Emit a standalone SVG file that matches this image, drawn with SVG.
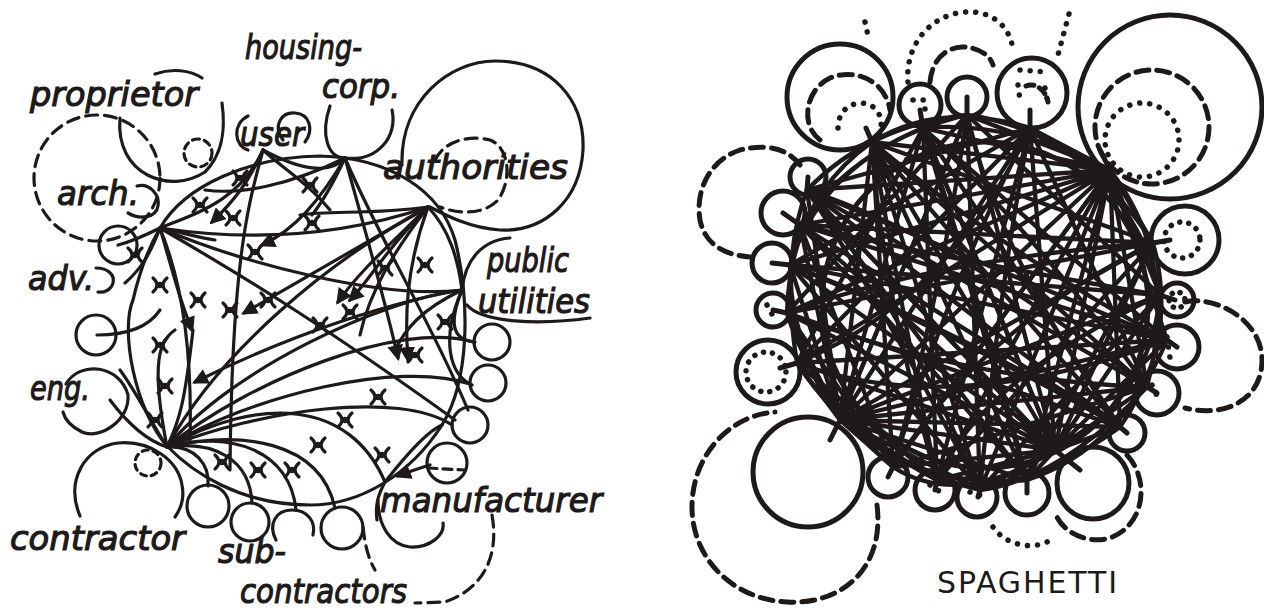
<svg xmlns="http://www.w3.org/2000/svg" xmlns:xlink="http://www.w3.org/1999/xlink" width="1264" height="610" viewBox="0 0 1264 610">
  <defs>
    <style>
      .ln { fill: none; stroke: #1e1a1a; stroke-width: 3.2; stroke-linecap: round; stroke-linejoin: round; }
      .dash { fill: none; stroke: #1e1a1a; stroke-width: 3.2; stroke-dasharray: 12 7; stroke-linecap: round; }
      .hw { font-family: "DejaVu Sans", "Liberation Sans", sans-serif; font-style: italic; font-size: 34px; fill: #1e1a1a; stroke: #1e1a1a; stroke-width: 1.2; }
      .sp { fill: none; stroke: #1e1a1a; stroke-width: 5; stroke-linecap: round; stroke-linejoin: round; }
      .web { fill: none; stroke: #1e1a1a; stroke-width: 4.3; stroke-linecap: round; stroke-linejoin: round; }
      .spd { fill: none; stroke: #1e1a1a; stroke-width: 5; stroke-dasharray: 13 8; stroke-linecap: round; }
      .spo { fill: none; stroke: #1e1a1a; stroke-width: 5.5; stroke-dasharray: 0.1 10; stroke-linecap: round; }
      .cap { font-family: "DejaVu Sans", "Liberation Sans", sans-serif; font-size: 30px; fill: #1e1a1a; }
    </style>
    <marker id="arr" viewBox="0 0 10 10" refX="8" refY="5" markerWidth="5" markerHeight="5" orient="auto" markerUnits="strokeWidth">
      <path d="M0,0 L10,5 L0,10 Z" fill="#1e1a1a"/>
    </marker>
    <g id="hook">
      <path d="M-7,-7 Q1,0 -7,7 M7,-7 Q-1,0 7,7" fill="none" stroke="#1e1a1a" stroke-width="3.2" stroke-linecap="round"/>
      <circle r="3.2" fill="#1e1a1a"/>
    </g>
  </defs>
  <rect width="1264" height="610" fill="#ffffff"/>

  <!-- ================= left: the building process ================= -->
  <g id="left-ring">
    <path class="ln" d="M160,228 C185,185 250,157 320,156 C390,158 440,190 455,240 C470,300 470,380 442,425 C410,475 360,505 310,505 C240,505 192,472 167,446 C135,410 120,330 133,300 C140,270 150,245 160,228 Z"/>
  </g>

  <g id="connectors-left">
    <!-- from architect -->
    <path class="ln" d="M160,228 C200,212 240,200 263,150"/>
    <path class="ln" d="M160,228 C240,240 330,240 428,207"/>
    <path class="ln" d="M160,228 C240,262 380,300 462,290"/>
    <path class="ln" d="M160,228 C250,280 330,330 455,420"/>
    <path class="ln" d="M160,228 C185,290 192,360 190,440"/>
    <path class="ln" d="M160,228 C175,280 180,300 192,330" marker-end="url(#arr)"/>
    <path class="ln" d="M160,228 C140,238 130,242 118,245"/>
    <path class="ln" d="M160,228 C150,255 140,270 125,283"/>
    <path class="ln" d="M160,228 C180,232 200,238 215,240"/>
    <!-- from user -->
    <path class="ln" d="M263,150 C250,180 235,200 212,222" marker-end="url(#arr)"/>
    <path class="ln" d="M263,150 C250,200 232,250 230,470"/>
    <path class="ln" d="M263,150 C285,170 310,185 330,210"/>
    <path class="ln" d="M263,150 C300,170 330,175 345,158"/>
    <!-- from housing corporation -->
    <path class="ln" d="M345,158 C320,200 295,230 262,245" marker-end="url(#arr)"/>
    <path class="ln" d="M345,158 C365,230 385,300 398,358" marker-end="url(#arr)"/>
    <path class="ln" d="M345,158 C380,240 430,320 468,410"/>
    <path class="ln" d="M345,158 C290,185 240,195 205,190"/>
    <path class="ln" d="M345,158 C330,190 320,205 312,215"/>
    <!-- from authorities -->
    <path class="ln" d="M428,207 C380,235 310,275 244,313" marker-end="url(#arr)"/>
    <path class="ln" d="M428,207 C395,240 360,270 338,302" marker-end="url(#arr)"/>
    <path class="ln" d="M428,207 C395,250 370,290 360,335"/>
    <path class="ln" d="M428,207 C385,250 370,280 350,300" marker-end="url(#arr)"/>
    <path class="ln" d="M428,207 C405,270 405,320 408,360" marker-end="url(#arr)"/>
    <path class="ln" d="M428,207 C450,230 458,260 462,290"/>
    <path class="ln" d="M428,207 C370,215 330,210 300,215"/>
    <!-- from public utilities -->
    <path class="ln" d="M462,290 C400,300 300,330 195,382" marker-end="url(#arr)"/>
    <path class="ln" d="M462,290 C450,320 450,340 475,342"/>
    <path class="ln" d="M462,290 C440,340 450,375 472,385"/>
    <path class="ln" d="M462,290 C420,310 405,330 395,350"/>
    <!-- from contractor -->
    <path class="ln" d="M167,447 C220,350 330,260 428,207"/>
    <path class="ln" d="M167,447 C230,370 380,300 462,290"/>
    <path class="ln" d="M167,447 C250,380 400,320 474,342"/>
    <path class="ln" d="M167,447 C250,395 400,360 470,384"/>
    <path class="ln" d="M167,447 C260,410 400,390 452,425"/>
    <path class="ln" d="M167,447 C260,395 350,400 385,482"/>
    <path class="ln" d="M167,447 C240,430 320,440 335,508"/>
    <path class="ln" d="M167,447 C230,430 290,450 296,510"/>
    <path class="ln" d="M167,447 C215,440 250,460 252,503"/>
    <path class="ln" d="M167,447 C195,445 210,465 208,486"/>
    <path class="ln" d="M167,447 C180,420 185,400 193,330"/>
    <path class="ln" d="M167,447 C150,420 135,390 120,370"/>
    <path class="ln" d="M167,447 C145,440 125,420 110,400"/>
    <path class="ln" d="M167,447 C150,360 160,340 175,330"/>
    <path class="ln" d="M97,335 C130,335 150,325 160,310"/>
    <!-- manufacturer -->
    <path class="ln" d="M385,482 C410,450 430,430 442,425"/>
    <path class="ln" d="M430,465 C420,468 408,472 398,476" marker-end="url(#arr)"/>
    <path class="ln" d="M385,482 C378,495 375,505 377,520"/>
  </g>

  <g id="hooks-left">
    <use xlink:href="#hook" x="240" y="178"/>
    <use xlink:href="#hook" x="200" y="205"/>
    <use xlink:href="#hook" x="233" y="218"/>
    <use xlink:href="#hook" x="310" y="185"/>
    <use xlink:href="#hook" x="312" y="223"/>
    <use xlink:href="#hook" x="255" y="252"/>
    <use xlink:href="#hook" x="135" y="255"/>
    <use xlink:href="#hook" x="160" y="285"/>
    <use xlink:href="#hook" x="198" y="300"/>
    <use xlink:href="#hook" x="230" y="310"/>
    <use xlink:href="#hook" x="268" y="300"/>
    <use xlink:href="#hook" x="320" y="325"/>
    <use xlink:href="#hook" x="350" y="312"/>
    <use xlink:href="#hook" x="385" y="268"/>
    <use xlink:href="#hook" x="425" y="265"/>
    <use xlink:href="#hook" x="445" y="322"/>
    <use xlink:href="#hook" x="415" y="355"/>
    <use xlink:href="#hook" x="160" y="345"/>
    <use xlink:href="#hook" x="165" y="386"/>
    <use xlink:href="#hook" x="155" y="420"/>
    <use xlink:href="#hook" x="378" y="397"/>
    <use xlink:href="#hook" x="345" y="420"/>
    <use xlink:href="#hook" x="318" y="445"/>
    <use xlink:href="#hook" x="292" y="470"/>
    <use xlink:href="#hook" x="258" y="470"/>
    <use xlink:href="#hook" x="222" y="462"/>
    <use xlink:href="#hook" x="382" y="455"/>
  </g>

  <g id="node-proprietor">
    <circle class="dash" cx="97" cy="178" r="63"/>
    <path class="ln" d="M120,118 C115,175 170,195 205,172 C225,152 225,125 222,103"/>
    <path class="ln" d="M155,74 C172,68 190,70 202,78"/>
    <circle class="dash" cx="198" cy="153" r="14" style="stroke-dasharray:7 5"/>
    <text class="hw" x="30" y="106" textLength="168" lengthAdjust="spacingAndGlyphs">proprietor</text>
  </g>
  <g id="node-user">
    <path class="ln" d="M248,116 C232,124 234,146 248,150"/>
    <path class="ln" d="M283,140 C272,125 282,112 295,113 C310,114 314,130 305,142"/>
    <text class="hw" x="240" y="146" textLength="64" lengthAdjust="spacingAndGlyphs">user</text>
  </g>
  <g id="node-housing-corp">
    <path class="ln" d="M330,106 C320,135 328,158 345,158 C378,162 398,136 392,110"/>
    <text class="hw" x="245" y="59" textLength="117" lengthAdjust="spacingAndGlyphs">housing-</text>
    <text class="hw" x="322" y="98" textLength="78" lengthAdjust="spacingAndGlyphs">corp.</text>
  </g>
  <g id="node-authorities">
    <path class="ln" d="M402,165 C400,100 450,61 495,61 C552,61 585,100 583,150 C580,200 545,232 500,230 C470,228 445,215 430,207"/>
    <path class="dash" d="M435,160 C445,140 470,135 490,140 C510,148 512,180 498,200 C485,214 460,215 440,207"/>
    <text class="hw" x="383" y="179" textLength="185" lengthAdjust="spacingAndGlyphs">authorities</text>
  </g>
  <g id="node-public-utilities">
    <path class="ln" d="M462,290 C465,260 482,240 510,238"/>
    <path class="ln" d="M467,305 C482,323 540,325 590,318"/>
    <text class="hw" x="487" y="272" textLength="82" lengthAdjust="spacingAndGlyphs">public</text>
    <text class="hw" x="478" y="313" textLength="112" lengthAdjust="spacingAndGlyphs">utilities</text>
  </g>
  <g id="node-arch">
    <path class="ln" d="M137,186 C150,183 160,195 158,206 C156,218 140,220 128,213"/>
    <text class="hw" x="57" y="205" textLength="82" lengthAdjust="spacingAndGlyphs">arch.</text>
  </g>
  <g id="node-adv">
    <circle class="ln" cx="118" cy="245" r="19"/>
    <path class="ln" d="M96,268 C108,268 115,275 113,283 C111,290 104,293 98,292"/>
    <text class="hw" x="28" y="290" textLength="66" lengthAdjust="spacingAndGlyphs">adv.</text>
  </g>
  <g id="node-side-left">
    <circle class="ln" cx="96" cy="335" r="20"/>
  </g>
  <g id="node-eng">
    <path class="ln" d="M66,384 C80,360 120,365 128,395 C130,420 100,440 82,432 C72,427 65,420 63,412"/>
    <text class="hw" x="30" y="400" textLength="60" lengthAdjust="spacingAndGlyphs">eng.</text>
  </g>
  <g id="node-contractor">
    <path class="ln" d="M80,516 C65,480 85,447 118,443 C150,440 178,460 182,485 C185,500 180,510 175,517"/>
    <circle class="dash" cx="148" cy="463" r="13" style="stroke-dasharray:6 5"/>
    <text class="hw" x="10" y="550" textLength="175" lengthAdjust="spacingAndGlyphs">contractor</text>
  </g>
  <g id="node-subcontractors">
    <circle class="ln" cx="208" cy="506" r="21"/>
    <circle class="ln" cx="250" cy="522" r="19"/>
    <path class="ln" d="M276,540 C268,525 275,510 292,510 C308,510 316,522 313,535"/>
    <circle class="ln" cx="342" cy="528" r="21"/>
    <text class="hw" x="218" y="563" textLength="68" lengthAdjust="spacingAndGlyphs">sub-</text>
    <text class="hw" x="240" y="603" textLength="167" lengthAdjust="spacingAndGlyphs">contractors</text>
  </g>
  <g id="node-manufacturer">
    <circle class="ln" cx="447" cy="463" r="20"/>
    <path class="dash" d="M428,468 L465,470" style="stroke-dasharray:9 6"/>
    <path class="ln" d="M378,500 C378,525 390,545 410,547 C430,548 445,535 443,523"/>
    <path class="dash" d="M492,515 C500,560 480,590 445,602 L415,603"/>
    <path class="dash" d="M363,527 C365,545 368,558 375,570"/>
    <text class="hw" x="380" y="512" textLength="222" lengthAdjust="spacingAndGlyphs">manufacturer</text>
  </g>
  <g id="node-side-right">
    <circle class="ln" cx="492" cy="342" r="18"/>
    <circle class="ln" cx="488" cy="383" r="18"/>
    <circle class="ln" cx="470" cy="425" r="18"/>
  </g>

  <!-- ================= right: every party tied to every other ================= -->
  <g id="spaghetti-ring">
    <circle class="sp" cx="985" cy="305" r="163"/>
  </g>

  <g id="connectors-right">
    <path class="web" d="M1110,170L807,190 M1110,170L800,225 M1110,170L790,265 M1110,170L787,313 M1110,170L797,363 M1110,170L840,420 M1110,170L893,467 M1110,170L937,480 M1110,170L980,490 M1110,170L1027,480 M1110,170L1055,450 M1110,170L1120,427 M1110,170L1147,387 M1110,170L1167,340 M1110,170L1160,295 M1110,170L1153,243 M1110,170L1030,128 M1110,170L967,115 M1110,170L923,128 M1110,170L872,142"/>
    <path class="web" d="M840,420L807,190 M840,420L800,225 M840,420L790,265 M840,420L787,313 M840,420L797,363 M840,420L893,467 M840,420L937,480 M840,420L980,490 M840,420L1027,480 M840,420L1055,450 M840,420L1120,427 M840,420L1147,387 M840,420L1167,340 M840,420L1160,295 M840,420L1153,243 M840,420L1030,128 M840,420L967,115 M840,420L923,128 M840,420L872,142"/>
    <path class="web" d="M1055,450L807,190 M1055,450L800,225 M1055,450L790,265 M1055,450L787,313 M1055,450L797,363 M1055,450L893,467 M1055,450L937,480 M1055,450L980,490 M1055,450L1027,480 M1055,450L1120,427 M1055,450L1147,387 M1055,450L1167,340 M1055,450L1160,295 M1055,450L1153,243 M1055,450L1030,128 M1055,450L967,115 M1055,450L923,128 M1055,450L872,142"/>
    <path class="web" d="M807,190Q960,240 1147,387 M807,190Q900,300 980,490 M800,225Q950,260 1160,295 M790,265Q960,330 1120,427 M787,313Q930,260 1153,243 M797,363Q950,300 1030,128 M872,142Q900,300 937,480 M923,128Q980,300 1027,480 M967,115Q940,300 893,467 M872,142Q1000,250 1167,340 M923,128Q1050,250 1147,387 M967,115Q1000,260 1120,427 M1030,128Q1000,280 980,490 M1153,243Q980,330 893,467 M1160,295Q980,380 937,480 M1167,340Q950,420 797,363 M1147,387Q960,380 787,313 M1120,427Q950,330 790,265 M1027,480Q900,330 800,225 M980,490Q880,300 807,190 M937,480Q880,280 872,142 M893,467Q950,280 1030,128"/>
    <path class="web" d="M807,190Q870,125 967,115 M872,142Q940,100 1030,128 M923,128Q1010,120 1110,170 M967,115Q1080,130 1153,243 M1030,128Q1140,190 1160,295 M1110,170Q1180,260 1147,387 M1153,243Q1180,340 1120,427 M1160,295Q1150,400 1055,450 M1167,340Q1120,450 1027,480 M1147,387Q1060,480 980,490 M1120,427Q1020,500 937,480 M1055,450Q960,510 893,467 M1027,480Q920,490 840,420 M980,490Q860,460 797,363 M937,480Q820,420 787,313 M893,467Q790,380 790,265 M840,420Q770,320 800,225 M797,363Q780,260 807,190 M787,313Q790,200 872,142 M790,265Q820,170 923,128 M800,225Q860,140 967,115"/>
    <path class="web" d="M807,190L1055,450 M872,142L1120,427 M923,128L1055,450 M967,115L840,420 M1030,128L797,363 M1153,243L787,313 M1160,295L790,265 M1167,340L800,225 M1147,387L807,190 M1120,427L872,142 M1027,480L923,128 M980,490L967,115 M937,480L1030,128 M893,467L1110,170"/>
    <path class="web" d="M807,190L1027,480 M807,190L1120,427 M807,190L1167,340 M807,190L1030,128 M800,225L893,467 M800,225L1120,427 M800,225L1153,243 M790,265L980,490 M790,265L1167,340 M790,265L1030,128 M787,313L893,467 M787,313L1120,427 M787,313L967,115 M797,363L937,480 M797,363L1167,340 M797,363L923,128 M893,467L1147,387 M893,467L872,142 M937,480L1153,243 M937,480L923,128 M980,490L1160,295 M980,490L872,142 M1027,480L1153,243 M1027,480L872,142 M1120,427L923,128 M1147,387L1030,128 M1147,387L872,142 M1167,340L923,128 M1160,295L967,115 M1153,243L872,142"/>
    <!-- stubs into the satellites -->
    <path class="sp" d="M807,190L808,177 M800,225L783,213 M790,265L772,263 M787,313L773,310 M797,363L780,368 M893,467L888,477 M937,480L935,490 M980,490L978,497 M1027,480L1027,493 M1055,450L1080,470 M1120,427L1127,433 M1147,387L1157,393 M1167,340L1177,347 M1160,295L1175,300 M1153,243L1170,240 M1110,170L1100,150 M1030,128L1030,110 M967,115L967,97 M923,128L920,110 M872,142L866,128 M840,420L830,440"/>
  </g>

  <g id="sat-top-left">
    <circle class="sp" cx="840" cy="97" r="53"/>
    <path class="spd" d="M820,140 C800,125 805,90 830,78 C855,68 885,80 890,110"/>
    <path class="spo" d="M838,128 C838,110 852,100 868,104 C882,110 884,125 878,138"/>
  </g>
  <g id="sat-top-dotted">
    <path class="spo" d="M908,82 C905,45 930,15 965,12 C995,10 1012,30 1013,52"/>
    <path class="spo" d="M865,22 L869,40"/>
    <path class="spo" d="M1069,14 L1058,55"/>
    <path class="spd" d="M930,82 C932,60 945,48 962,47 C978,47 990,55 993,65"/>
  </g>
  <g id="sat-top">
    <circle class="sp" cx="920" cy="105" r="21"/>
    <path class="spo" d="M913,100 L928,100 M925,109 L925,110"/>
    <circle class="sp" cx="967" cy="97" r="20"/>
    <circle class="sp" cx="1032" cy="93" r="35"/>
    <path class="spo" d="M1020,70 L1047,72 M1018,85 L1020,100 M1045,88 L1048,104"/>
    <path class="spd" d="M1026,86 C1035,82 1046,90 1048,102" style="stroke-dasharray:8 6"/>
  </g>
  <g id="sat-top-right">
    <circle class="sp" cx="1170" cy="107" r="92"/>
    <circle class="spd" cx="1152" cy="127" r="57"/>
    <circle class="spo" cx="1142" cy="140" r="37"/>
  </g>
  <g id="sat-right">
    <circle class="sp" cx="1185" cy="240" r="34"/>
    <circle class="spo" cx="1182" cy="240" r="18" style="stroke-dasharray:0.1 9"/>
    <circle class="sp" cx="1177" cy="300" r="17"/>
    <circle class="spo" cx="1177" cy="300" r="8" style="stroke-dasharray:0.1 8"/>
    <circle class="sp" cx="1177" cy="347" r="22"/>
    <path class="spo" d="M1167,337 L1170,358"/>
    <circle class="sp" cx="1157" cy="393" r="22"/>
    <path class="spo" d="M1152,385 L1158,398"/>
    <circle class="sp" cx="1127" cy="433" r="18"/>
    <path class="spd" d="M1185,302 C1215,295 1262,320 1262,360 C1262,400 1225,418 1185,408"/>
  </g>
  <g id="sat-bottom">
    <circle class="sp" cx="1093" cy="483" r="36"/>
    <path class="spd" d="M1127,455 C1150,480 1145,525 1110,538 C1085,545 1060,530 1055,512"/>
    <circle class="sp" cx="1027" cy="493" r="22"/>
    <circle class="sp" cx="977" cy="497" r="20"/>
    <path class="spo" d="M970,492 L985,497"/>
    <path class="spo" d="M993,527 C1005,545 1035,553 1055,537"/>
    <circle class="sp" cx="935" cy="490" r="20"/>
    <path class="spo" d="M930,485 L942,493"/>
    <circle class="sp" cx="888" cy="477" r="20"/>
  </g>
  <g id="sat-bottom-left">
    <circle class="sp" cx="808" cy="472" r="55"/>
    <path class="spd" d="M877,505 C885,570 840,605 787,602 C735,600 692,560 692,507 C692,455 730,415 775,412"/>
  </g>
  <g id="sat-left">
    <circle class="sp" cx="768" cy="372" r="32"/>
    <circle class="spo" cx="766" cy="372" r="20" style="stroke-dasharray:0.1 9"/>
    <circle class="sp" cx="773" cy="310" r="17"/>
    <path class="spo" d="M767,305 L773,316"/>
    <circle class="sp" cx="772" cy="263" r="20"/>
    <circle class="sp" cx="783" cy="213" r="22"/>
    <circle class="sp" cx="808" cy="177" r="18"/>
    <path class="spd" d="M800,165 C785,145 760,145 740,150 C710,160 695,190 700,220 C705,245 725,255 750,257"/>
  </g>

  <text class="cap" x="937" y="593" textLength="180" lengthAdjust="spacing">SPAGHETTI</text>
</svg>
